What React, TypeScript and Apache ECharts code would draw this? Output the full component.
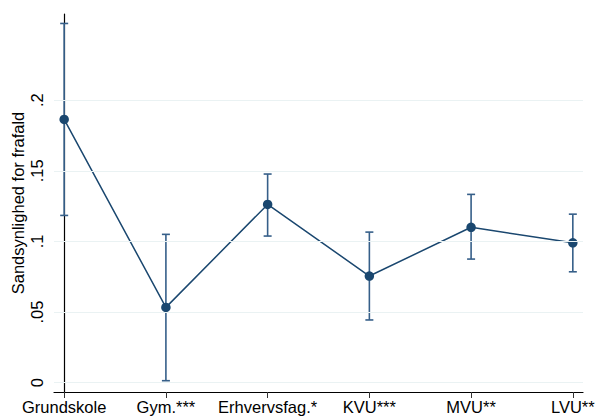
import React, { useEffect, useRef } from "react";
import * as echarts from "echarts";

const categories = ["Grundskole", "Gym.***", "Erhvervsfag.*", "KVU***", "MVU**", "LVU**"];
const estimates = [0.1864, 0.0533, 0.1262, 0.0755, 0.110, 0.099];
const ciLower = [0.1184, 0.0014, 0.1038, 0.0444, 0.0875, 0.0785];
const ciUpper = [0.2543, 0.105, 0.1477, 0.1066, 0.1333, 0.1193];
const yTicks = [0, 0.05, 0.1, 0.15, 0.2];
const yTickLabels = ["0", ".05", ".1", ".15", ".2"];
const yTitle = "Sandsynlighed for frafald";

const NAVY = "#1a476f";
const FONT = "'Liberation Sans', Arial, sans-serif";

export default function App() {
  const ref = useRef<HTMLDivElement>(null);
  useEffect(() => {
    document.body.style.margin = "0";
    const chart = echarts.init(ref.current!, null, { renderer: "svg" });
    const xIdx = categories.map((_, i) => i);
    chart.setOption({
      animation: false,
      backgroundColor: "#ffffff",
      grid: { left: 54, right: 15, top: 14, bottom: 25, containLabel: false, outerBoundsMode: "none" },
      xAxis: {
        type: "value",
        min: -0.1,
        max: 5.1,
        axisLine: { show: true, onZero: false, lineStyle: { color: "#000", width: 1.2 } },
        axisTick: { show: true, customValues: xIdx, length: 6, lineStyle: { color: "#333", width: 1 } },
        axisLabel: {
          customValues: xIdx,
          formatter: (v: number) => categories[Math.round(v)] ?? "",
          color: "#000",
          fontFamily: FONT,
          fontSize: 16.5,
          margin: 6,
        },
        splitLine: { show: false },
      },
      yAxis: {
        type: "value",
        min: -0.0066,
        max: 0.261,
        name: yTitle,
        nameLocation: "middle",
        nameGap: 28,
        nameMoveOverlap: false,
        nameTextStyle: { color: "#000", fontFamily: FONT, fontSize: 16.5 },
        axisLine: { show: true, lineStyle: { color: "#000", width: 1.2 } },
        axisTick: { show: true, customValues: yTicks, length: 6, lineStyle: { color: "#333", width: 1 } },
        axisLabel: {
          customValues: yTicks,
          formatter: (v: number) => {
            const i = yTicks.findIndex((t) => Math.abs(t - v) < 1e-9);
            return i >= 0 ? yTickLabels[i] : "";
          },
          rotate: 90,
          color: "#000",
          fontFamily: FONT,
          fontSize: 16.5,
          margin: 9,
        },
        splitLine: { show: false },
      },
      series: [
        {
          type: "line",
          silent: true,
          data: [],
          markLine: {
            silent: true,
            symbol: "none",
            label: { show: false },
            lineStyle: { color: "#eaf2f3", width: 1.2, type: "solid" },
            data: yTicks.map((t) => ({ yAxis: t })),
          },
        },
        {
          type: "custom",
          silent: true,
          data: categories.map((_, i) => [i, ciLower[i], ciUpper[i]]),
          renderItem: (params: any, api: any) => {
            const x = api.value(0);
            const lo = api.coord([x, api.value(1)]);
            const hi = api.coord([x, api.value(2)]);
            const cap = 4;
            const style = { stroke: "#365f89", lineWidth: 1.6 };
            return {
              type: "group",
              children: [
                { type: "line", shape: { x1: lo[0], y1: lo[1], x2: hi[0], y2: hi[1] }, style },
                { type: "line", shape: { x1: lo[0] - cap, y1: lo[1], x2: lo[0] + cap, y2: lo[1] }, style },
                { type: "line", shape: { x1: hi[0] - cap, y1: hi[1], x2: hi[0] + cap, y2: hi[1] }, style },
              ],
            };
          },
          z: 3,
        },
        {
          type: "line",
          data: categories.map((_, i) => [i, estimates[i]]),
          symbol: "circle",
          symbolSize: 9.5,
          lineStyle: { color: NAVY, width: 1.5 },
          itemStyle: { color: NAVY },
          z: 4,
        },
      ],
    });
    return () => chart.dispose();
  }, []);
  return <div ref={ref} style={{ width: 598, height: 417 }} />;
}
